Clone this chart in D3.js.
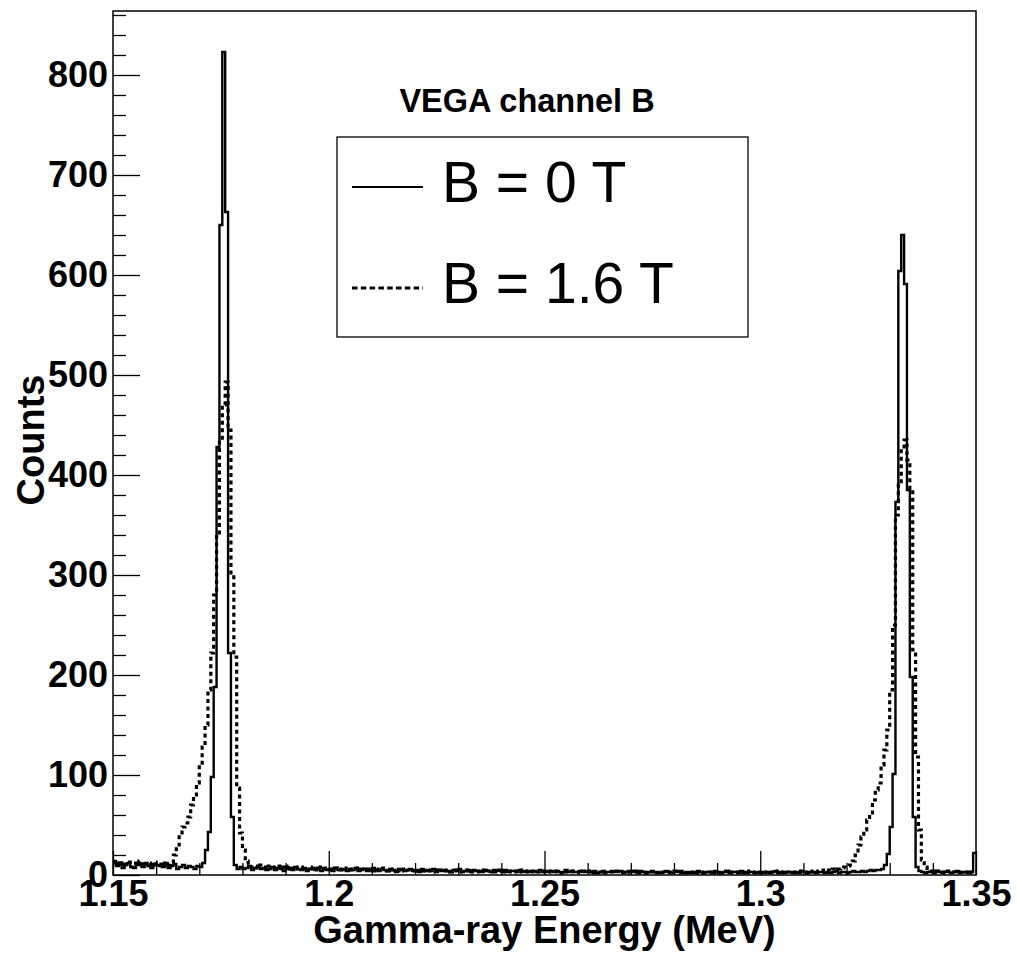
<!DOCTYPE html>
<html>
<head>
<meta charset="utf-8">
<script src="https://cdn.jsdelivr.net/npm/d3@7"></script>
<style>
  html, body { margin: 0; padding: 0; background: #fff; }
  svg { display: block; font-family: 'Liberation Sans', Arial, Helvetica, sans-serif; }
</style>
</head>
<body>
<svg id="chart" width="1017" height="957"></svg>
<script>
// ---------------- data ----------------
const chartTitle = "VEGA channel B";
const xTitle = "Gamma-ray Energy (MeV)";
const yTitle = "Counts";
const seriesNames = ["B = 0 T", "B = 1.6 T"];

const xDomain = [1.15, 1.35];
const yDomain = [0, 864];
const binStart = 1.15;
const binWidth = 0.2 / 300;   // MeV per bin

const xTickValues = [1.15, 1.2, 1.25, 1.3, 1.35];
const xTickLabels = ["1.15", "1.2", "1.25", "1.3", "1.35"];
const xMinorStep = 0.01;
const yTickValues = [0, 100, 200, 300, 400, 500, 600, 700, 800];
const yTickLabels = ["0", "100", "200", "300", "400", "500", "600", "700", "800"];
const yMinorStep = 20;

// B = 0 T (solid) counts per bin
const countsB0 = [
  14,9,11,7,10,12,8,7,10,11, 8,12,9,7,11,10,9,8,12,7, 9,11,6,8,10,7,9,8,6,9,
  8,12,25,43,98,188,428,650,823,663, 222,58,10,6,
  8,6,7,9,5,7,8,6,7,5, 6,8,5,7,6,4,7,6,5,8, 6,5,7,4,6,7,5,6,4,7, 5,6,4,7,5,6,5,4,6,5,
  7,4,5,6,4,5,7,5,4,6, 5,4,6,5,3,6,5,4,5,6, 4,5,3,6,4,5,4,6,3,5, 4,5,4,3,5,4,6,3,4,5,
  3,5,4,4,3,5,4,3,5,4, 4,3,5,3,4,4,3,5,3,4, 3,4,4,3,5,3,4,3,4,3, 4,3,3,5,3,4,3,3,4,3,
  3,4,3,4,2,3,4,3,3,4, 3,3,4,2,3,4,3,3,2,4, 3,2,3,4,3,3,2,3,4,3, 2,3,3,4,2,3,3,2,3,4,
  3,2,3,3,2,4,3,2,3,3, 2,3,3,2,4,3,2,3,3,2, 3,2,3,3,2,3,4,2,3,2, 3,3,2,3,2,4,3,2,3,3,
  2,3,3,2,3,2,3,4,2,3, 3,2,3,4,3,3,4,3,4,5, 4,5,5,
  6,10,21,48,101,373,604,640,591,385, 198,58,8,
  4,3,2,3,3,2,4,3,2,3, 3,2,3,4,2,3,3,2,3,22
];

// B = 1.6 T (dotted) counts per bin
const countsB16 = [
  12,10,14,9,11,13,8,12,10,14, 9,11,12,8,13,10,11,9,12,10,
  12,20,30,40,48,52,58,70,80,92, 110,128,150,185,222,280,340,435,470,493, 445,300,218,87,42,25,14,10,
  8,9,7,10,8,6,9,8,7,9, 7,8,6,9,7,8,6,7,8,6, 8,6,7,5,8,6,7,6,5,7, 6,5,7,6,5,6,7,5,6,5,
  6,5,4,6,5,7,5,4,6,5, 5,4,6,4,5,5,4,6,4,5, 4,5,4,5,3,5,4,4,5,3, 4,5,3,4,4,5,3,4,4,3,
  5,3,4,4,3,4,5,3,4,3, 4,3,4,5,3,3,4,3,4,3, 3,4,3,4,3,3,4,2,4,3, 3,4,3,3,2,4,3,3,4,2,
  3,3,4,2,3,3,2,4,3,3, 2,3,3,4,2,3,3,2,3,3, 4,2,3,3,2,3,3,4,2,3, 3,2,3,3,4,2,3,2,3,3,
  2,3,3,2,3,4,2,3,2,3, 3,2,4,3,2,3,3,2,3,2, 3,3,2,4,3,2,3,3,2,3, 3,4,3,2,3,4,3,4,5,4,
  5,4,6,5,6,7,8,9,
  10,14,20,30,38,45,55,62,75,85, 92,110,125,145,185,250,360,390,428,435, 415,385,225,118,45,15,8,
  5,4,3,4,3,3,2,4,3,3, 2,3,4,3,2,3,4
];

// ---------------- layout ----------------
const W = 1017, H = 957;
const plot = { left: 113, right: 976, top: 11, bottom: 875 };

const svg = d3.select("#chart");
svg.append("rect").attr("width", W).attr("height", H).attr("fill", "#fff");

const x = d3.scaleLinear().domain(xDomain).range([plot.left, plot.right]);
const y = d3.scaleLinear().domain(yDomain).range([plot.bottom, plot.top]);

svg.append("defs").append("clipPath").attr("id", "clip")
  .append("rect")
  .attr("x", plot.left).attr("y", plot.top)
  .attr("width", plot.right - plot.left).attr("height", plot.bottom - plot.top);

// histogram step path
function stepPoints(counts) {
  const pts = counts.map((c, i) => [binStart + i * binWidth, c]);
  pts.push([binStart + counts.length * binWidth, counts[counts.length - 1]]);
  return pts;
}
const line = d3.line().x(d => x(d[0])).y(d => y(d[1])).curve(d3.curveStepAfter);

const g = svg.append("g").attr("clip-path", "url(#clip)");
g.append("path").datum(stepPoints(countsB16))
  .attr("d", line).attr("fill", "none").attr("stroke", "#000")
  .attr("stroke-width", 3.2).attr("stroke-dasharray", "4,3.5");
g.append("path").datum(stepPoints(countsB0))
  .attr("d", line).attr("fill", "none").attr("stroke", "#000")
  .attr("stroke-width", 2.4).attr("stroke-linejoin", "miter");

// axes: ticks inside the frame
const yMinor = d3.range(yDomain[0], yDomain[1] + 0.001, yMinorStep).filter(v => v % 100 !== 0);
const xMinor = d3.range(0, 21).map(i => +(xDomain[0] + i * xMinorStep).toFixed(3))
  .filter(v => !xTickValues.some(t => Math.abs(t - v) < 1e-6));

const yAxisMajor = svg.append("g").attr("transform", `translate(${plot.left},0)`)
  .call(d3.axisLeft(y).tickValues(yTickValues).tickSize(-27).tickPadding(5)
    .tickFormat((d, i) => yTickLabels[i]));
const yAxisMinor = svg.append("g").attr("transform", `translate(${plot.left},0)`)
  .call(d3.axisLeft(y).tickValues(yMinor).tickSize(-13).tickFormat(""));
const xAxisMajor = svg.append("g").attr("transform", `translate(0,${plot.bottom})`)
  .call(d3.axisBottom(x).tickValues(xTickValues).tickSize(-24).tickPadding(5)
    .tickFormat((d, i) => xTickLabels[i]));
const xAxisMinor = svg.append("g").attr("transform", `translate(0,${plot.bottom})`)
  .call(d3.axisBottom(x).tickValues(xMinor).tickSize(-12).tickFormat(""));

[yAxisMajor, yAxisMinor, xAxisMajor, xAxisMinor].forEach(a => {
  a.select(".domain").remove();
  a.selectAll(".tick line").attr("stroke", "#000").attr("stroke-width", 1.3);
  a.selectAll(".tick text").attr("fill", "#000")
    .style("font-family", "'Liberation Sans', Arial, sans-serif")
    .style("font-size", "36px").style("font-weight", "bold");
});

// frame
svg.append("rect")
  .attr("x", plot.left).attr("y", plot.top)
  .attr("width", plot.right - plot.left).attr("height", plot.bottom - plot.top)
  .attr("fill", "none").attr("stroke", "#000").attr("stroke-width", 1.5);

// axis titles
svg.append("text")
  .attr("x", (plot.left + plot.right) / 2).attr("y", 943)
  .attr("text-anchor", "middle")
  .style("font-size", "38px").style("font-weight", "bold")
  .text(xTitle);
svg.append("text")
  .attr("transform", "translate(44,440) rotate(-90)")
  .attr("text-anchor", "middle")
  .style("font-size", "38px").style("font-weight", "bold")
  .text(yTitle);

// title
svg.append("text")
  .attr("x", 527).attr("y", 112)
  .attr("text-anchor", "middle")
  .style("font-size", "32.5px").style("font-weight", "bold")
  .text(chartTitle);

// legend
const leg = svg.append("g");
leg.append("rect").attr("x", 337).attr("y", 137).attr("width", 411).attr("height", 200)
  .attr("fill", "#fff").attr("stroke", "#000").attr("stroke-width", 1.3);
const legRows = [
  { name: seriesNames[0], y: 187, width: 1.8, dash: null },
  { name: seriesNames[1], y: 288, width: 3, dash: "5.5,3.3" }
];
legRows.forEach(r => {
  leg.append("line").attr("x1", 352).attr("x2", 423).attr("y1", r.y).attr("y2", r.y)
    .attr("stroke", "#000").attr("stroke-width", r.width)
    .attr("stroke-dasharray", r.dash);
  leg.append("text").attr("x", 442).attr("y", r.y + 15)
    .style("font-size", "57px")
    .text(r.name);
});
</script>
</body>
</html>
